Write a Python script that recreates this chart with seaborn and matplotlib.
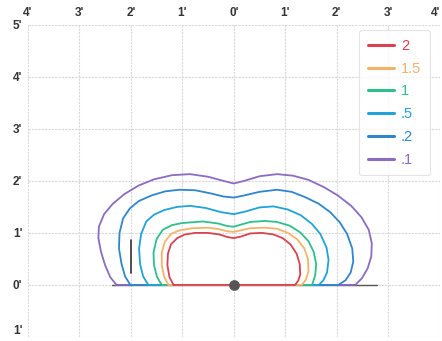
import pandas as pd
import seaborn as sns
import matplotlib.pyplot as plt

# footcandle contours (feet)
levels = ["2", "1.5", "1", ".5", ".2", ".1"]
colors = ["#d9424f", "#f2b46a", "#2fbf8a", "#21a3d8", "#2f86cc", "#8c6bc2"]

red_x = [-1.17, -1.25, -1.29, -1.28, -1.22, -1.10, -0.95, -0.75, -0.50, -0.28, -0.12, 0.00,
         0.14, 0.32, 0.55, 0.77, 0.95, 1.10, 1.22, 1.28, 1.29, 1.25, 1.19]
red_y = [0.00, 0.15, 0.38, 0.60, 0.78, 0.90, 0.97, 1.00, 1.00, 0.97, 0.92, 0.90,
         0.93, 0.99, 1.00, 0.97, 0.90, 0.78, 0.60, 0.40, 0.20, 0.08, 0.00]

orange_x = [-1.27, -1.35, -1.40, -1.40, -1.34, -1.22, -1.05, -0.80, -0.50, -0.28, -0.12, 0.00,
            0.14, 0.32, 0.60, 0.84, 1.05, 1.23, 1.37, 1.44, 1.45, 1.40, 1.32]
orange_y = [0.00, 0.15, 0.38, 0.62, 0.83, 0.98, 1.05, 1.09, 1.10, 1.07, 1.03, 1.02,
            1.05, 1.09, 1.10, 1.08, 1.00, 0.88, 0.70, 0.50, 0.26, 0.10, 0.00]

green_x = [-1.40, -1.49, -1.55, -1.56, -1.50, -1.38, -1.20, -1.00, -0.60, -0.30, -0.12, 0.00,
           0.14, 0.32, 0.60, 0.84, 1.08, 1.29, 1.45, 1.55, 1.60, 1.58, 1.52]
green_y = [0.00, 0.15, 0.38, 0.62, 0.88, 1.06, 1.15, 1.19, 1.22, 1.18, 1.13, 1.12,
           1.16, 1.21, 1.23, 1.21, 1.14, 1.01, 0.84, 0.64, 0.40, 0.18, 0.00]

cyan_x = [-1.66, -1.76, -1.82, -1.84, -1.80, -1.70, -1.55, -1.35, -1.10, -0.85, -0.55, -0.25, 0.00,
          0.22, 0.50, 0.77, 1.05, 1.30, 1.52, 1.68, 1.80, 1.84, 1.81, 1.74, 1.65]
cyan_y = [0.00, 0.16, 0.40, 0.70, 0.98, 1.22, 1.35, 1.44, 1.50, 1.52, 1.48, 1.40, 1.36,
          1.41, 1.49, 1.51, 1.45, 1.34, 1.17, 0.98, 0.72, 0.48, 0.24, 0.09, 0.00]

blue_x = [-2.01, -2.11, -2.18, -2.23, -2.22, -2.15, -2.02, -1.85, -1.60, -1.33, -1.05, -0.75, -0.45, -0.20, 0.00,
          0.20, 0.50, 0.84, 1.12, 1.38, 1.65, 1.87, 2.06, 2.20, 2.30, 2.32, 2.27, 2.17, 2.03]
blue_y = [0.00, 0.16, 0.40, 0.70, 1.00, 1.28, 1.47, 1.61, 1.72, 1.80, 1.83, 1.82, 1.76, 1.70, 1.68,
          1.72, 1.79, 1.83, 1.79, 1.69, 1.56, 1.40, 1.20, 0.98, 0.70, 0.45, 0.24, 0.09, 0.00]

purple_x = [-2.28, -2.40, -2.50, -2.58, -2.63, -2.62, -2.52, -2.35, -2.12, -1.85, -1.55, -1.20, -0.85, -0.50, -0.20, 0.00,
            0.20, 0.50, 0.84, 1.15, 1.45, 1.75, 2.02, 2.28, 2.48, 2.62, 2.68, 2.67, 2.60, 2.49, 2.36]
purple_y = [0.00, 0.15, 0.38, 0.64, 0.90, 1.12, 1.36, 1.56, 1.75, 1.91, 2.03, 2.11, 2.13, 2.08, 2.00, 1.95,
            2.00, 2.09, 2.13, 2.10, 2.02, 1.88, 1.72, 1.52, 1.30, 1.06, 0.80, 0.55, 0.32, 0.13, 0.00]

contours = [(red_x, red_y), (orange_x, orange_y), (green_x, green_y),
            (cyan_x, cyan_y), (blue_x, blue_y), (purple_x, purple_y)]

x_ticks = [-4, -3, -2, -1, 0, 1, 2, 3, 4]
x_labels = ["4'", "3'", "2'", "1'", "0'", "1'", "2'", "3'", "4'"]
y_ticks = [-1, 0, 1, 2, 3, 4, 5]
y_labels = ["1'", "0'", "1'", "2'", "3'", "4'", "5'"]

baseline_x = [-2.37, 2.78]
marker_x = [-2.0, -2.0]
marker_y = [0.23, 0.87]

sns.set_style("white")
plt.rcParams["font.family"] = ["Liberation Sans", "DejaVu Sans"]

fig = plt.figure(figsize=(4.42, 3.41), dpi=100)
ax = fig.add_axes([0.063, 0.012, 0.932, 0.915])

ax.plot(baseline_x, [0, 0], color="#555555", lw=1.0, zorder=2)

handles = []
# draw outer rings first so inner ones sit on top
for name, col, (cx, cy) in reversed(list(zip(levels, colors, contours))):
    df = pd.DataFrame({"x": cx + [cx[0]], "y": cy + [cy[0]]})
    sns.lineplot(data=df, x="x", y="y", sort=False, estimator=None,
                 color=col, lw=1.3, ax=ax, zorder=3)
    handles.append(plt.Line2D([], [], color=col, lw=2.2, label=name))

ax.plot(marker_x, marker_y, color="#333333", lw=1.2, zorder=4)
ax.scatter([0], [0], s=45, color="#555555", zorder=5)

ax.set_xlim(-4, 4)
ax.set_ylim(-1, 5)
ax.set_xlabel("")
ax.set_ylabel("")
ax.xaxis.tick_top()
ax.set_xticks(x_ticks)
ax.set_xticklabels(x_labels)
ax.set_yticks(y_ticks)
ax.set_yticklabels(y_labels)
ax.tick_params(length=0, labelsize=8.5, labelcolor="#333333", pad=4)
for t in ax.get_xticklabels() + ax.get_yticklabels():
    t.set_fontweight("bold")
# keep the edge labels inside the canvas
ax.get_yticklabels()[0].set_va("bottom")
ax.get_xticklabels()[-1].set_ha("right")
ax.grid(True, color="#d8d8d8", lw=0.8, linestyle=(0, (2, 1)))
for s in ax.spines.values():
    s.set_visible(False)

leg = ax.legend(handles=handles[::-1], loc="upper right",
                bbox_to_anchor=(0.976, 0.983), borderaxespad=0,
                frameon=True, fancybox=True,
                edgecolor="#dddddd", fontsize=10.5, handlelength=1.8,
                labelspacing=0.6, borderpad=0.6, handletextpad=0.45)
leg.get_frame().set_linewidth(0.8)
for txt, col in zip(leg.get_texts(), colors):
    txt.set_color(col)

fig.savefig("out.png", dpi=100)
